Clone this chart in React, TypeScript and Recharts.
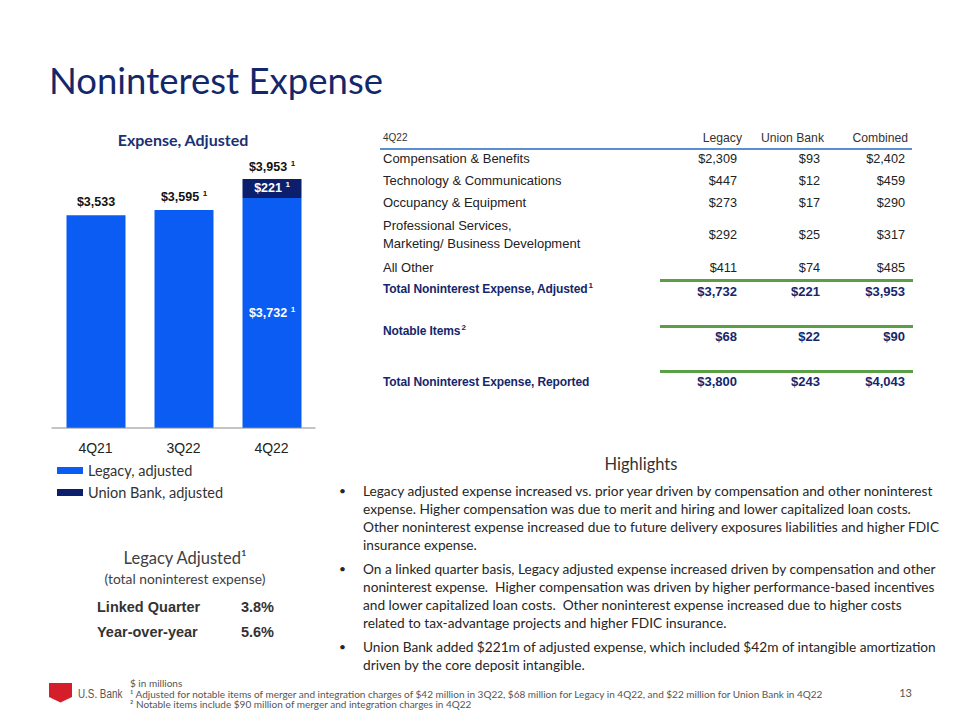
import React from 'react';
import { BarChart, Bar, XAxis, YAxis, LabelList } from 'recharts';

// ---------- data ----------
const quarters = ['4Q21', '3Q22', '4Q22'];
const legacyAdjusted = [3533, 3595, 3732];
const unionBankAdjusted: (number | null)[] = [null, null, 221];
const adjustedFootnote = [false, true, true];

const seriesNames = ['Legacy, adjusted', 'Union Bank, adjusted'];

const tableQuarter = '4Q22';
const tableColumns = ['Legacy', 'Union Bank', 'Combined'];
const tableRowLabels = [
  'Compensation & Benefits',
  'Technology & Communications',
  'Occupancy & Equipment',
  'Professional Services,\nMarketing/ Business Development',
  'All Other',
];
const legacyValues = [2309, 447, 273, 292, 411];
const unionValues = [93, 12, 17, 25, 74];
const combinedValues = [2402, 459, 290, 317, 485];

const totalRowLabels = ['Total Noninterest Expense, Adjusted', 'Notable Items', 'Total Noninterest Expense, Reported'];
const totalRowSup = ['1', '2', ''];
const totalLegacy = [3732, 68, 3800];
const totalUnion = [221, 22, 243];
const totalCombined = [3953, 90, 4043];

const growthLabels = ['Linked Quarter', 'Year-over-year'];
const growthValues = [3.8, 5.6];

const highlightParas = [
  [
    'Legacy adjusted expense increased vs. prior year driven by compensation and other noninterest',
    'expense. Higher compensation was due to merit and hiring and lower capitalized loan costs.',
    'Other noninterest expense increased due to future delivery exposures liabilities and higher FDIC',
    'insurance expense.',
  ],
  [
    'On a linked quarter basis, Legacy adjusted expense increased driven by compensation and other',
    'noninterest expense.  Higher compensation was driven by higher performance-based incentives',
    'and lower capitalized loan costs.  Other noninterest expense increased due to higher costs',
    'related to tax-advantage projects and higher FDIC insurance.',
  ],
  [
    'Union Bank added $221m of adjusted expense, which included $42m of intangible amortization',
    'driven by the core deposit intangible.',
  ],
];

const footnotes = [
  '$ in millions',
  '\u00b9 Adjusted for notable items of merger and integration charges of $42 million in 3Q22, $68 million for Legacy in 4Q22, and $22 million for Union Bank in 4Q22',
  '\u00b2 Notable items include $90 million of merger and integration charges in 4Q22',
];

// ---------- layout / style ----------
const LEGACY = '#0a5cf3';
const UNION = '#0b1f6d';
const NAVY = '#15276c';
const ARIAL = '"Liberation Sans", Arial, sans-serif';
const CAL = 'Lato, "Open Sans", sans-serif';

const CW = 340;
const CH = 470;
const M = { top: 150, right: 24.5, left: 51.5, bottom: 12 };
const XH = 30;
const PLOT_BOTTOM = CH - M.bottom - XH;

const rowY = [159, 181, 203, 235, 268];
const totalLabelY = [289, 331, 382];
const totalValueY = [292, 337, 382];
const greenLineY = [280, 326, 371];
const colRight = [737, 820, 905];
const headRight = [742, 824, 908];
const paraY = [
  [491, 509, 527, 545],
  [569, 587, 605, 623],
  [647, 665],
];
const fmt = (v: number) => '$' + v.toLocaleString('en-US');

const chartData = quarters.map((q, i) => ({ quarter: q, legacy: legacyAdjusted[i], union: unionBankAdjusted[i] }));

function geom(p: any) {
  const vb = p.viewBox || {};
  return {
    x: p.x ?? vb.x,
    y: p.y ?? vb.y,
    w: p.width ?? vb.width,
    h: p.height ?? vb.height,
  };
}

function Sup() {
  return (
    <>
      <tspan>{'\u00a0'}</tspan>
      <tspan fontSize={8} dy={-4}>1</tspan>
    </>
  );
}

function legacyLabel(p: any) {
  const i = p.index;
  const { x, y, w } = geom(p);
  if (x == null || y == null) return null;
  const inside = unionBankAdjusted[i] != null;
  const cy = inside ? (y + PLOT_BOTTOM) / 2 : y - 13;
  return (
    <text
      key={'l' + i}
      x={x + w / 2}
      y={cy}
      textAnchor="middle"
      dominantBaseline="central"
      fontFamily={ARIAL}
      fontWeight={700}
      fontSize={12.5}
      fill={inside ? '#ffffff' : '#111111'}
    >
      {fmt(legacyAdjusted[i])}
      {adjustedFootnote[i] ? <Sup /> : null}
    </text>
  );
}

function unionLabel(p: any) {
  const raw = Array.isArray(p.value) ? p.value[1] - p.value[0] : p.value;
  const u = Number(raw);
  if (raw == null || !isFinite(u) || u === 0) return null;
  const i = unionBankAdjusted.indexOf(u);
  if (i < 0) return null;
  const { x, y, w, h } = geom(p);
  if (x == null || y == null) return null;
  return (
    <g key={'u' + i}>
      <text x={x + w / 2} y={y + h / 2} textAnchor="middle" dominantBaseline="central"
        fontFamily={ARIAL} fontWeight={700} fontSize={12.5} fill="#ffffff">
        {fmt(u)}
        {adjustedFootnote[i] ? <Sup /> : null}
      </text>
      <text x={x + w / 2} y={y - 12} textAnchor="middle" dominantBaseline="central"
        fontFamily={ARIAL} fontWeight={700} fontSize={12.5} fill="#111111">
        {fmt(u + legacyAdjusted[i])}
        {adjustedFootnote[i] ? <Sup /> : null}
      </text>
    </g>
  );
}

type TP = { x: number; y: number; h?: number; align?: 'left' | 'right' | 'center'; style?: React.CSSProperties; children: React.ReactNode };
function T({ x, y, h = 20, align = 'left', style, children }: TP) {
  const base: React.CSSProperties = {
    position: 'absolute',
    top: y - h / 2,
    height: h,
    lineHeight: h + 'px',
    whiteSpace: 'pre',
  };
  if (align === 'left') Object.assign(base, { left: x });
  else if (align === 'right') Object.assign(base, { right: 960 - x, textAlign: 'right' });
  else Object.assign(base, { left: x - 300, width: 600, textAlign: 'center' });
  return <div style={{ ...base, ...style }}>{children}</div>;
}

const rowStyle: React.CSSProperties = { fontFamily: ARIAL, fontSize: 13, color: '#222' };
const valStyle: React.CSSProperties = { fontFamily: ARIAL, fontSize: 12.7, color: '#222' };
const boldRow: React.CSSProperties = { fontFamily: ARIAL, fontSize: 12, fontWeight: 700, color: NAVY, letterSpacing: -0.1 };
const boldVal: React.CSSProperties = { fontFamily: ARIAL, fontSize: 13, fontWeight: 700, color: NAVY };
const bodyStyle: React.CSSProperties = { fontFamily: CAL, fontSize: 13.7, color: '#262626' };

export default function App() {
  return (
    <div style={{ position: 'absolute', left: 0, top: 0, width: 960, height: 720, background: '#fff', overflow: 'hidden', fontFamily: CAL }}>
      {/* Title */}
      <T x={49} y={80} h={48} style={{ fontFamily: CAL, fontSize: 36.5, color: '#13286b' }}>Noninterest Expense</T>
      <T x={183} y={140} h={24} align="center" style={{ fontFamily: CAL, fontSize: 16, fontWeight: 700, color: '#1b2f74' }}>Expense, Adjusted</T>

      {/* Chart */}
      <div style={{ position: 'absolute', left: 0, top: 0 }}>
        <BarChart width={CW} height={CH} data={chartData} margin={M} barSize={59}>
          <XAxis
            dataKey="quarter"
            height={XH}
            tickSize={0}
            tickMargin={15}
            axisLine={{ stroke: '#8a8a8a', strokeWidth: 1 }}
            tick={{ fontFamily: ARIAL, fontSize: 14, fill: '#222' }}
          />
          <YAxis hide type="number" domain={[1080, 4286]} allowDataOverflow />
          <Bar dataKey="legacy" stackId="a" fill={LEGACY} isAnimationActive={false} name={seriesNames[0]}>
            <LabelList dataKey="legacy" content={legacyLabel} />
          </Bar>
          <Bar dataKey="union" stackId="a" fill={UNION} isAnimationActive={false} name={seriesNames[1]}>
            <LabelList dataKey="union" content={unionLabel} />
          </Bar>
        </BarChart>
      </div>

      {/* Legend */}
      {seriesNames.map((n, i) => (
        <React.Fragment key={n}>
          <div style={{ position: 'absolute', left: 57, top: 467 + i * 22, width: 26, height: 7, background: i === 0 ? LEGACY : UNION }} />
          <T x={88} y={471 + i * 22} style={{ fontFamily: CAL, fontSize: 14.5, color: '#333' }}>{n}</T>
        </React.Fragment>
      ))}

      {/* Legacy adjusted growth */}
      <T x={185} y={558} h={24} align="center" style={{ fontFamily: CAL, fontSize: 16.5, color: '#404040' }}>Legacy Adjusted{'\u00b9'}</T>
      <T x={185} y={579} align="center" style={{ fontFamily: CAL, fontSize: 13.8, color: '#404040' }}>(total noninterest expense)</T>
      {growthLabels.map((g, i) => (
        <React.Fragment key={g}>
          <T x={97} y={607 + i * 25} style={{ fontFamily: ARIAL, fontSize: 14.5, fontWeight: 700, color: '#333' }}>{g}</T>
          <T x={274} y={607 + i * 25} align="right" style={{ fontFamily: ARIAL, fontSize: 14.5, fontWeight: 700, color: '#333' }}>{growthValues[i].toFixed(1) + '%'}</T>
        </React.Fragment>
      ))}

      {/* Table */}
      <T x={383} y={138} style={{ fontFamily: ARIAL, fontSize: 10, color: '#333' }}>{tableQuarter}</T>
      {tableColumns.map((c, i) => (
        <T key={c} x={headRight[i]} y={138} align="right" style={{ fontFamily: ARIAL, fontSize: 12.2, color: '#333' }}>{c}</T>
      ))}
      <div style={{ position: 'absolute', left: 380, top: 148, width: 532, height: 2, background: '#5b8dd3' }} />
      {tableRowLabels.map((lab, i) => {
        const lines = lab.split('\n');
        return (
          <React.Fragment key={lab}>
            {lines.map((ln, k) => (
              <T key={ln} x={383} y={lines.length > 1 ? rowY[i] - 9 + k * 18 : rowY[i]} style={rowStyle}>{ln}</T>
            ))}
            {[legacyValues, unionValues, combinedValues].map((arr, c) => (
              <T key={c} x={colRight[c]} y={rowY[i]} align="right" style={valStyle}>{fmt(arr[i])}</T>
            ))}
          </React.Fragment>
        );
      })}
      {greenLineY.map((y) => (
        <div key={y} style={{ position: 'absolute', left: 660, top: y - 1, width: 253, height: 2.5, background: '#5a9e45' }} />
      ))}
      {totalRowLabels.map((lab, i) => (
        <React.Fragment key={lab}>
          <T x={383} y={totalLabelY[i]} style={boldRow}>
            {lab}
            {totalRowSup[i] ? <span style={{ fontSize: 8, position: 'relative', top: -5, marginLeft: 1 }}>{totalRowSup[i]}</span> : null}
          </T>
          {[totalLegacy, totalUnion, totalCombined].map((arr, c) => (
            <T key={c} x={colRight[c]} y={totalValueY[i]} align="right" style={boldVal}>{fmt(arr[i])}</T>
          ))}
        </React.Fragment>
      ))}

      {/* Highlights */}
      <T x={641} y={464} h={24} align="center" style={{ fontFamily: CAL, fontSize: 16.5, color: '#333' }}>Highlights</T>
      {highlightParas.map((para, p) => (
        <React.Fragment key={p}>
          <T x={339} y={paraY[p][0]} style={{ ...bodyStyle, fontSize: 12 }}>{'\u2022'}</T>
          {para.map((ln, k) => (
            <T key={k} x={363} y={paraY[p][k]} style={bodyStyle}>{ln}</T>
          ))}
        </React.Fragment>
      ))}

      {/* Footer */}
      <svg style={{ position: 'absolute', left: 49, top: 683 }} width={24} height={20}>
        <path d="M0,0 H23 V14 L11.5,19.5 L0,14 Z" fill="#d41f2b" />
      </svg>
      <T x={78} y={694} style={{ fontFamily: ARIAL, fontSize: 12, color: '#555', transform: 'scaleX(0.82)', transformOrigin: 'left center' }}>U.S. Bank</T>
      {footnotes.map((f, i) => (
        <T key={i} x={130} y={683 + i * 10.5} h={12} style={{ fontFamily: CAL, fontSize: 10, color: '#555' }}>{f}</T>
      ))}
      <T x={912} y={693} align="right" style={{ fontFamily: CAL, fontSize: 11, color: '#555' }}>13</T>
    </div>
  );
}
